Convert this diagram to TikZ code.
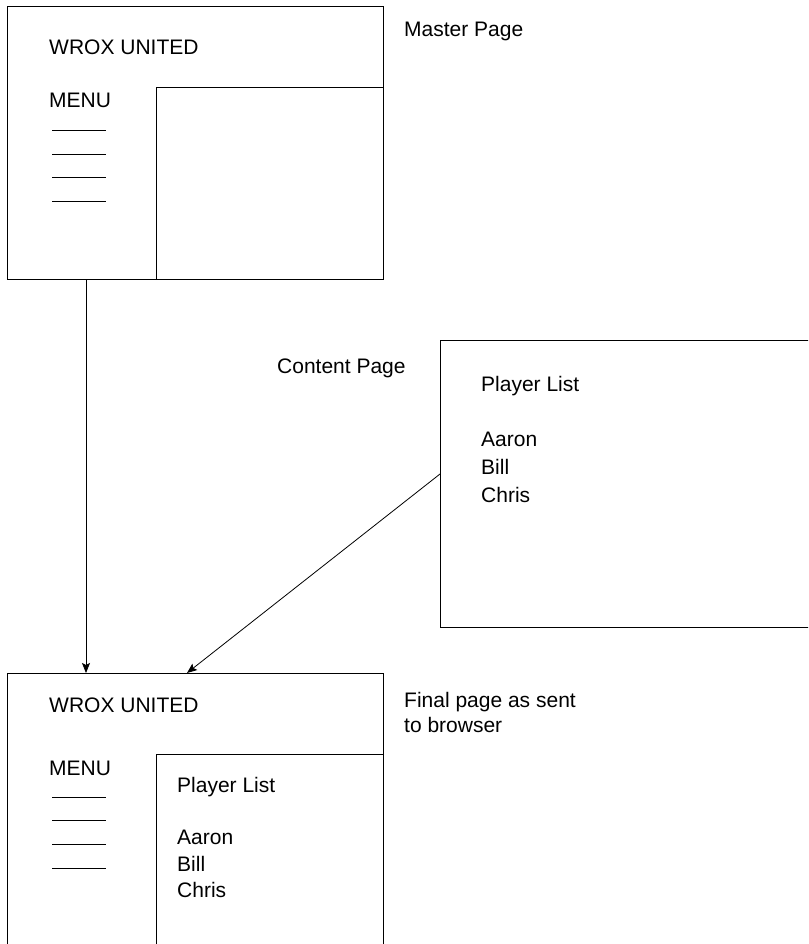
\documentclass[tikz,border=0pt]{standalone}
\usepackage{fontspec}
\setmainfont{Liberation Sans}
\usetikzlibrary{arrows.meta}

\tikzset{
	page/.style={draw, line width=1pt, inner sep=0pt, anchor=north west},
	txt/.style={anchor=base west, inner sep=0pt, font=\fontsize{21}{26}\selectfont},
	link/.style={-{Stealth[length=10pt,width=8pt,inset=2pt]}, line width=0.8pt}
}

\begin{document}
\begin{tikzpicture}[x=1pt,y=-1pt]

		\useasboundingbox (0,0) rectangle (808,944);
		\clip (0,0) rectangle (808,944);

		% master page
		\node[page, minimum width=376pt, minimum height=273pt] (master) at (7,6) {};
		\node[page, minimum width=227pt, minimum height=192pt] (masterslot) at (156,87) {};
		\node[txt] (title1) at (49,55) {WROX UNITED};
		\node[txt] (menu1) at (49,108) {MENU};
		\foreach \y in {130,154,177,201}
			\draw (52,\y) -- (106,\y);
		\node[txt] (lblmaster) at (404,37) {Master Page};

		% content page
		\node[page, minimum width=400pt, minimum height=287pt] (content) at (440,340) {};
		\node[txt] (lblcontent) at (277,373) {Content Page};
		\node[txt] (list2) at (481,391) {Player List};
		\node[txt] (aaron2) at (481,446) {Aaron};
		\node[txt] (bill2) at (481,474) {Bill};
		\node[txt] (chris2) at (481,502) {Chris};

		% final page
		\node[page, minimum width=376pt, minimum height=300pt] (final) at (7,673) {};
		\node[page, minimum width=227pt, minimum height=220pt] (finalslot) at (156,754) {};
		\node[txt] (title3) at (49,712) {WROX UNITED};
		\node[txt] (menu3) at (49,775) {MENU};
		\foreach \y in {797,820,844,868}
			\draw (52,\y) -- (106,\y);
		\node[txt] (list3) at (177,792) {Player List};
		\node[txt] (aaron3) at (177,844) {Aaron};
		\node[txt] (bill3) at (177,871) {Bill};
		\node[txt] (chris3) at (177,897) {Chris};
		\node[txt] (lblfinal) at (404,707) {Final page as sent};
		\node[txt] (lblfinal2) at (404,732) {to browser};

		\draw[link] ([xshift=79pt]master.south west) -- ([xshift=79pt]final.north west);
		\draw[link] ([yshift=10pt]content.west) -- ([xshift=180pt]final.north west);

	\end{tikzpicture}
\end{document}
